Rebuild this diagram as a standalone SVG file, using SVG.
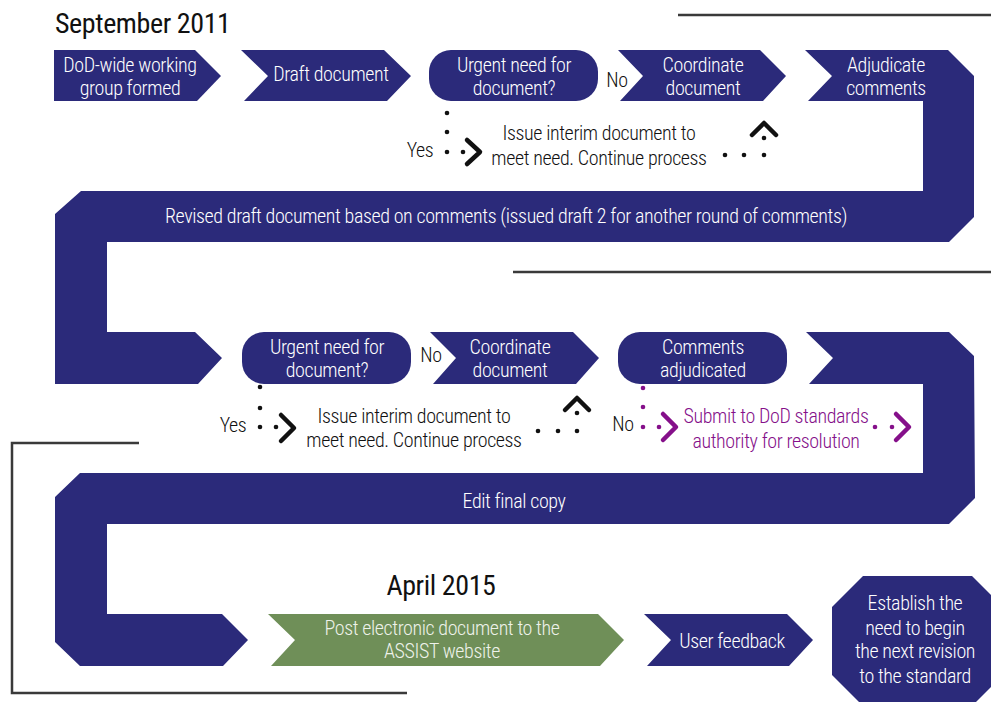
<svg xmlns="http://www.w3.org/2000/svg" width="991" height="702" viewBox="0 0 991 702">
<defs>
<style>
.nv{fill:#2b2a7a}
.gr{fill:#6f8f58}
.t{font-family:"Liberation Sans Narrow","Roboto Condensed","DejaVu Sans Condensed",sans-serif;font-size:20px;font-weight:300;letter-spacing:-0.4px;text-anchor:middle}
.w{fill:#ffffff}
.k{fill:#111111}
.p{fill:#85108a}
.g{fill:#eef2ea}
.h{font-family:"Liberation Sans Narrow","Roboto Condensed","DejaVu Sans Condensed",sans-serif;font-size:28px;letter-spacing:-0.4px;fill:#111111}
.ln{fill:none;stroke:#3a3a3a;stroke-width:2.5}
.dk{fill:#111111}
.dp{fill:#85108a}
.ck{fill:none;stroke:#111111;stroke-width:4.5;stroke-linecap:round;stroke-linejoin:round}
.cp{fill:none;stroke:#85108a;stroke-width:4.5;stroke-linecap:round;stroke-linejoin:round}
</style>
</defs>
<rect width="991" height="702" fill="#ffffff"/>

<g id="frame-lines">
<line class="ln" x1="678" y1="15" x2="991" y2="15"/>
<line class="ln" x1="513" y1="272" x2="991" y2="272"/>
<polyline class="ln" points="139,443 12,443 12,693 407,693"/>
</g>

<text class="h" x="55" y="33">September 2011</text>
<text class="h" x="441" y="595" text-anchor="middle">April 2015</text>

<g id="n1">
<polygon class="nv" points="54,50 195,50 221,76 197,101 54,101"/>
<text class="t w" x="130" y="72">DoD-wide working</text>
<text class="t w" x="130" y="95">group formed</text>
</g>
<g id="n2">
<polygon class="nv" points="241,50 384,50 411,76 387,101 244,101 268,76"/>
<text class="t w" x="331" y="81">Draft document</text>
</g>
<g id="n3">
<rect class="nv" x="429" y="50" width="169" height="51" rx="22"/>
<text class="t w" x="514" y="72">Urgent need for</text>
<text class="t w" x="514" y="95">document?</text>
</g>
<g id="n4">
<polygon class="nv" points="618,50 760,50 786,76 763,101 620,101 643,76"/>
<text class="t w" x="703" y="72">Coordinate</text>
<text class="t w" x="703" y="95">document</text>
</g>
<g id="n5">
<polygon class="nv" points="805,50 948,50 974,76 974,217 949,242 107,242 107,332 195,332 222,358 198,384 55,384 55,214 81,191 923,191 923,101 808,101 832,76"/>
<text class="t w" x="886" y="72">Adjudicate</text>
<text class="t w" x="886" y="95">comments</text>
<text class="t w" x="506" y="223">Revised draft document based on comments (issued draft 2 for another round of comments)</text>
</g>
<g id="n6">
<text class="t k" x="599" y="140">Issue interim document to</text>
<text class="t k" x="599" y="165">meet need. Continue process</text>
</g>
<g id="n7">
<rect class="nv" x="242" y="332" width="169" height="52" rx="22"/>
<text class="t w" x="327" y="354">Urgent need for</text>
<text class="t w" x="327" y="377">document?</text>
</g>
<g id="n8">
<polygon class="nv" points="430,332 573,332 599,358 576,384 433,384 456,358"/>
<text class="t w" x="510" y="354">Coordinate</text>
<text class="t w" x="510" y="377">document</text>
</g>
<g id="n9">
<rect class="nv" x="618" y="332" width="169" height="52" rx="22"/>
<text class="t w" x="703" y="354">Comments</text>
<text class="t w" x="703" y="377">adjudicated</text>
</g>
<g id="n10">
<text class="t k" x="414" y="423">Issue interim document to</text>
<text class="t k" x="414" y="447">meet need. Continue process</text>
</g>
<g id="n11">
<text class="t p" x="776" y="423">Submit to DoD standards</text>
<text class="t p" x="776" y="448">authority for resolution</text>
</g>
<g id="n12">
<polygon class="nv" points="806,332 949,332 974,356 975,498 949,524 107,524 107,614 222,614 248,640 223,666 80,666 55,642 55,497 80,473 923,473 923,384 809,384 833,358"/>
<text class="t w" x="514" y="508">Edit final copy</text>
</g>
<g id="n13">
<polygon class="gr" points="268,614 598,614 624,640 600,666 271,666 295,640"/>
<text class="t g" x="442" y="635">Post electronic document to the</text>
<text class="t g" x="442" y="658">ASSIST website</text>
</g>
<g id="n14">
<polygon class="nv" points="644,614 787,614 813,640 789,666 647,666 671,640"/>
<text class="t w" x="732" y="648">User feedback</text>
</g>
<g id="n15">
<polygon class="nv" points="863,576 972,576 1003,607 1003,675 972,706 863,706 832,675 832,607"/>
<text class="t w" x="915" y="610">Establish the</text>
<text class="t w" x="915" y="635">need to begin</text>
<text class="t w" x="915" y="658">the next revision</text>
<text class="t w" x="915" y="683">to the standard</text>
</g>

<g id="connectors">
<text class="t k" x="617" y="87">No</text>
<text class="t k" x="420" y="157">Yes</text>
<circle class="dk" cx="447" cy="113" r="2.3"/>
<circle class="dk" cx="447" cy="132" r="2.3"/>
<circle class="dk" cx="447" cy="152" r="2.3"/>
<circle class="dk" cx="463" cy="152" r="2.3"/>
<polyline class="ck" points="467,140 480,152 467,164"/>
<circle class="dk" cx="725" cy="155" r="2.3"/>
<circle class="dk" cx="744" cy="155" r="2.3"/>
<circle class="dk" cx="764" cy="155" r="2.3"/>
<circle class="dk" cx="764" cy="138" r="2.3"/>
<polyline class="ck" points="752,135 764,123 776,135"/>

<text class="t k" x="431" y="362">No</text>
<text class="t k" x="233" y="432">Yes</text>
<circle class="dk" cx="260" cy="387" r="2.3"/>
<circle class="dk" cx="260" cy="408" r="2.3"/>
<circle class="dk" cx="260" cy="427" r="2.3"/>
<circle class="dk" cx="276" cy="427" r="2.3"/>
<polyline class="ck" points="281,415 294,428 281,441"/>
<circle class="dk" cx="538" cy="431" r="2.3"/>
<circle class="dk" cx="558" cy="431" r="2.3"/>
<circle class="dk" cx="577" cy="431" r="2.3"/>
<circle class="dk" cx="577" cy="413" r="2.3"/>
<polyline class="ck" points="565,410 577,398 589,410"/>

<text class="t k" x="623" y="431">No</text>
<circle class="dp" cx="643" cy="388" r="2.3"/>
<circle class="dp" cx="643" cy="407" r="2.3"/>
<circle class="dp" cx="643" cy="427" r="2.3"/>
<circle class="dp" cx="659" cy="427" r="2.3"/>
<polyline class="cp" points="663,414 676,427 663,440"/>
<circle class="dp" cx="875" cy="427" r="2.3"/>
<circle class="dp" cx="892" cy="427" r="2.3"/>
<polyline class="cp" points="896,414 909,427 896,440"/>
</g>
</svg>
